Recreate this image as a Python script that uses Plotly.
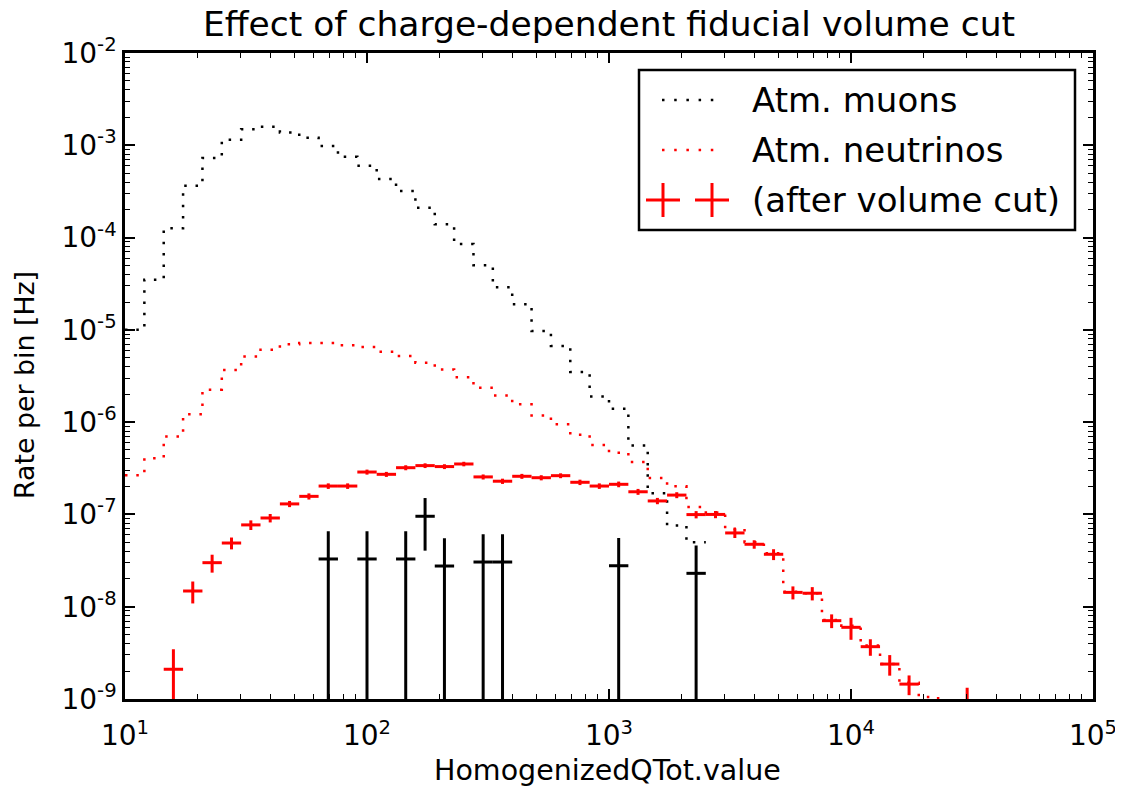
import numpy as np
import plotly.graph_objects as go

# ---------------- data ----------------
n_bins = 50
bin_edges = np.logspace(1, 5, n_bins + 1)          # HomogenizedQTot.value bins (log)
bin_centers = np.sqrt(bin_edges[:-1] * bin_edges[1:])

# Atm. muons (dotted black histogram), bins 0..29
muons_rate = [1.0e-5, 3.5e-5, 1.26e-4, 3.65e-4, 7.3e-4, 1.15e-3, 1.49e-3, 1.59e-3,
              1.38e-3, 1.21e-3, 9.8e-4, 7.5e-4, 6.0e-4, 4.3e-4, 3.2e-4, 2.1e-4,
              1.39e-4, 8.5e-5, 5.0e-5, 2.9e-5, 1.9e-5, 9.7e-6, 6.7e-6, 3.5e-6,
              1.9e-6, 1.4e-6, 5.6e-7, 1.7e-7, 7.6e-8, 5.0e-8]

# Atm. neutrinos (dotted red histogram), bins 0..43
neutrinos_rate = [2.65e-7, 4.06e-7, 7.0e-7, 1.22e-6, 2.25e-6, 3.67e-6, 5.16e-6, 6.1e-6,
                  7.0e-6, 7.2e-6, 7.2e-6, 6.8e-6, 6.5e-6, 5.8e-6, 5.2e-6, 4.4e-6,
                  3.73e-6, 3.06e-6, 2.36e-6, 1.95e-6, 1.56e-6, 1.18e-6, 9.5e-7, 7.3e-7,
                  5.65e-7, 4.67e-7, 3.7e-7, 2.48e-7, 2.02e-7, 1.2e-7, 1.05e-7, 7.0e-8,
                  5.0e-8, 3.8e-8, 1.45e-8, 1.4e-8, 7.2e-9, 6.2e-9, 3.8e-9, 2.4e-9,
                  1.5e-9, 1.05e-9, 8.0e-10, 6.6e-10]

# Atm. neutrinos after volume cut (red crosses), bins 0..43
nu_cut_rate = [None, None, 2.1e-9, 1.48e-8, 3.0e-8, 4.9e-8, 7.7e-8, 9.15e-8,
               1.30e-7, 1.57e-7, 2.03e-7, 2.03e-7, 2.88e-7, 2.72e-7, 3.21e-7, 3.38e-7,
               3.30e-7, 3.52e-7, 2.55e-7, 2.29e-7, 2.59e-7, 2.50e-7, 2.63e-7, 2.23e-7,
               2.03e-7, 2.12e-7, 1.76e-7, 1.40e-7, 1.62e-7, 9.96e-8, 1.00e-7, 6.3e-8,
               4.75e-8, 3.7e-8, 1.43e-8, 1.40e-8, 7.06e-9, 5.98e-9, 3.69e-9, 2.39e-9,
               1.45e-9, None, None, 6.6e-10]
nu_cut_err = [None, None, 1.36e-9, 3.95e-9, 6.6e-9, 7.2e-9, 9.2e-9, 9.6e-9,
              1.0e-8, 1.2e-8, 1.4e-8, 1.4e-8, 1.8e-8, 1.7e-8, 2.0e-8, 2.0e-8,
              2.0e-8, 2.0e-8, 1.6e-8, 1.5e-8, 1.6e-8, 1.6e-8, 1.6e-8, 1.5e-8,
              1.4e-8, 1.5e-8, 1.3e-8, 1.1e-8, 1.2e-8, 9.0e-9, 9.0e-9, 7.5e-9,
              5.0e-9, 5.0e-9, 2.3e-9, 2.3e-9, 1.2e-9, 1.6e-9, 7.5e-10, 6.0e-10,
              3.5e-10, None, None, 6.6e-10]

# Atm. muons after volume cut (black crosses), bins 0..29
mu_cut_rate = [None, None, None, None, None, None, None, None, None, None,
               3.29e-8, None, 3.29e-8, None, 3.29e-8, 9.55e-8, 2.76e-8, None,
               3.05e-8, 3.05e-8, None, None, None, None, None, 2.78e-8, None,
               None, None, 2.3e-8]
mu_cut_err = [None, None, None, None, None, None, None, None, None, None,
              3.29e-8, None, 3.29e-8, None, 3.29e-8, 5.5e-8, 2.76e-8, None,
              3.05e-8, 3.05e-8, None, None, None, None, None, 2.78e-8, None,
              None, None, 2.3e-8]

legend_labels = ["Atm. muons", "Atm. neutrinos", "(after volume cut)"]

x_tickvals = [1e1, 1e2, 1e3, 1e4, 1e5]
x_ticktext = ["10<sup>1</sup>", "10<sup>2</sup>", "10<sup>3</sup>", "10<sup>4</sup>", "10<sup>5</sup>"]
y_tickvals = [1e-9, 1e-8, 1e-7, 1e-6, 1e-5, 1e-4, 1e-3, 1e-2]
y_ticktext = ["10<sup>-9</sup>", "10<sup>-8</sup>", "10<sup>-7</sup>", "10<sup>-6</sup>",
              "10<sup>-5</sup>", "10<sup>-4</sup>", "10<sup>-3</sup>", "10<sup>-2</sup>"]
minor_mult = [2, 3, 4, 5, 6, 7, 8, 9]

# ---------------- figure ----------------
FONT = "DejaVu Sans"
RED = "#ff0000"
BLACK = "#000000"
DOTS = "2.5px,8.8px"

def step_xy(values):
    n = len(values)
    xs = list(bin_edges[:n + 1])
    ys = list(values) + [values[-1]]
    return xs, ys

fig = go.Figure()

mx, my = step_xy(muons_rate)
fig.add_trace(go.Scatter(x=mx, y=my, mode="lines", line_shape="hv",
                         line=dict(color=BLACK, width=2.5, dash=DOTS),
                         name=legend_labels[0], showlegend=False))
nx, ny = step_xy(neutrinos_rate)
fig.add_trace(go.Scatter(x=nx, y=ny, mode="lines", line_shape="hv",
                         line=dict(color=RED, width=2.5, dash=DOTS),
                         name=legend_labels[1], showlegend=False))

def cross_trace(rates, errs, color, name):
    n = len(rates)
    c = bin_centers[:n]
    right = bin_edges[1:n + 1] - c
    left = c - bin_edges[:n]
    return go.Scatter(
        x=c, y=rates, mode="markers",
        marker=dict(size=1, color=color, opacity=0),
        error_y=dict(type="data", array=errs, arrayminus=errs, symmetric=False,
                     color=color, thickness=3, width=0),
        error_x=dict(type="data", array=right, arrayminus=left, symmetric=False,
                     color=color, thickness=3, width=0),
        name=name, showlegend=False)

fig.add_trace(cross_trace(nu_cut_rate, nu_cut_err, RED, legend_labels[2]))
fig.add_trace(cross_trace(mu_cut_rate, mu_cut_err, BLACK, legend_labels[2]))

# page is rendered with an 8px body margin: lay the figure out in page pixels
OFF = 8
PL, PR, PT, PB = 125, 1093, 53, 699        # plot area in page pixels
W, H = 1123 - OFF, 790 - OFF
L, T = PL - OFF, PT - OFF
R, B = W - (PR - OFF), H - (PB - OFF)
pw, ph = PR - PL, PB - PT

def px(xp):
    return (xp - PL) / pw

def py(yp):
    return (PB - yp) / ph

x_minor = [m * 10 ** d for d in range(1, 5) for m in minor_mult]
y_minor = [m * 10.0 ** d for d in range(-9, -2) for m in minor_mult]

axis_common = dict(
    type="log", showline=True, linewidth=2.5, linecolor=BLACK, mirror="ticks",
    ticks="inside", ticklen=10, tickwidth=1.5, tickcolor=BLACK,
    showgrid=False, zeroline=False, automargin=False,
    tickfont=dict(family=FONT, size=28, color=BLACK),
)

fig.update_layout(
    width=W, height=H,
    margin=dict(l=L, r=R, t=T, b=B, autoexpand=False),
    paper_bgcolor="white", plot_bgcolor="white",
    font=dict(family=FONT, size=28, color=BLACK),
    title=dict(text="Effect of charge-dependent fiducial volume cut",
               x=0.5, xref="paper", xanchor="center",
               y=1 - 4 / H, yref="container", yanchor="top",
               font=dict(family=FONT, size=34.5, color=BLACK)),
    xaxis=dict(axis_common, range=[1, 5.0000001], tickvals=x_tickvals, ticktext=x_ticktext,
               ticklabelstandoff=10,
               minor=dict(tickvals=x_minor, ticks="inside", ticklen=5, tickwidth=1,
                          tickcolor=BLACK, showgrid=False)),
    yaxis=dict(axis_common, range=[-9.0000001, -2], tickvals=y_tickvals, ticktext=y_ticktext,
               minor=dict(tickvals=y_minor, ticks="inside", ticklen=5, tickwidth=1,
                          tickcolor=BLACK, showgrid=False)),
    showlegend=False,
)

# ---- axis titles ----
annotations = [
    dict(xref="paper", yref="paper", x=px(607), y=py(770), xanchor="center",
         yanchor="middle", showarrow=False, text="HomogenizedQTot.value",
         font=dict(family=FONT, size=28.5, color=BLACK)),
    dict(xref="paper", yref="paper", x=px(25), y=py(385), xanchor="center",
         yanchor="middle", showarrow=False, text="Rate per bin [Hz]", textangle=-90,
         font=dict(family=FONT, size=26.8, color=BLACK)),
]

# ---- legend (drawn as layout items) ----
shapes = [dict(type="rect", xref="paper", yref="paper",
               x0=px(639), x1=px(1075), y0=py(230), y1=py(70),
               line=dict(color=BLACK, width=2.5), fillcolor="white", layer="above")]
rows_y = [100, 150, 200]
for yy, col in zip(rows_y[:2], [BLACK, RED]):
    shapes.append(dict(type="line", xref="paper", yref="paper",
                       x0=px(662), x1=px(716), y0=py(yy), y1=py(yy),
                       line=dict(color=col, width=2.5, dash="2.5px,9.7px"), layer="above"))
for cx in [663, 712]:
    shapes.append(dict(type="line", xref="paper", yref="paper",
                       x0=px(cx - 17), x1=px(cx + 17), y0=py(200), y1=py(200),
                       line=dict(color=RED, width=3), layer="above"))
    shapes.append(dict(type="line", xref="paper", yref="paper",
                       x0=px(cx), x1=px(cx), y0=py(183), y1=py(217),
                       line=dict(color=RED, width=3), layer="above"))
for yy, lab in zip(rows_y, legend_labels):
    annotations.append(dict(xref="paper", yref="paper", x=px(750), y=py(yy),
                            xanchor="left", yanchor="middle", showarrow=False,
                            text=lab, font=dict(family=FONT, size=34, color=BLACK)))
fig.update_layout(shapes=shapes, annotations=annotations)

fig.write_html("out.html")
